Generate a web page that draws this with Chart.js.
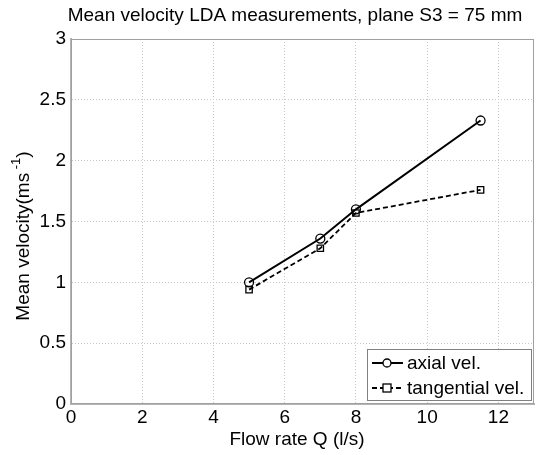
<!DOCTYPE html>
<html>
<head>
<meta charset="utf-8">
<script src="https://cdn.jsdelivr.net/npm/chart.js@4.4.0/dist/chart.umd.min.js"></script>
<style>
  html, body { margin: 0; padding: 0; background: #fff; }
  #wrap { width: 536px; height: 455px; }
</style>
</head>
<body>
<div id="wrap"><canvas id="chart" width="536" height="455"></canvas></div>
<script>
// data
const flowRate = [5, 7, 8, 11.5];
const axialVel = [1.0, 1.36, 1.6, 2.33];
const tangentialVel = [0.94, 1.28, 1.57, 1.76];

const xTicks = [0, 2, 4, 6, 8, 10, 12];
const yTicks = [0, 0.5, 1, 1.5, 2, 2.5, 3];

const titleText = 'Mean velocity LDA measurements, plane S3 = 75 mm';
const xTitle = 'Flow rate Q (l/s)';
const legendLabels = ['axial vel.', 'tangential vel.'];

const FONT = '"Liberation Sans", Arial, sans-serif';
const FS = 19;

const toPoints = (xs, ys) => xs.map((x, i) => ({ x: x, y: ys[i] }));

// titles, box and legend drawn by hand (MATLAB look)
const decorPlugin = {
    id: 'decor',
    afterDraw(chart) {
        const c = chart.ctx;
        const a = chart.chartArea;
        c.save();

        // box round the plot
        c.strokeStyle = '#a0a0a0';
        c.lineWidth = 1;
        c.strokeRect(a.left + 0.5, a.top + 0.5, a.right - a.left - 1, a.bottom - a.top - 1);

        c.fillStyle = '#000';
        c.font = FS + 'px ' + FONT;
        c.textBaseline = 'middle';
        c.textAlign = 'center';
        c.fillText(titleText, 295, 16);
        c.fillText(xTitle, 297, 440);

        // y title with superscript
        c.save();
        c.translate(24, 236);
        c.rotate(-Math.PI / 2);
        const main = 'Mean velocity(ms';
        const sup = ' -1';
        const end = ')';
        c.font = FS + 'px ' + FONT;
        const w1 = c.measureText(main).width;
        const w3 = c.measureText(end).width;
        c.font = '13px ' + FONT;
        const w2 = c.measureText(sup).width;
        let x0 = -(w1 + w2 + w3) / 2;
        c.textAlign = 'left';
        c.font = FS + 'px ' + FONT;
        c.fillText(main, x0, 0);
        c.font = '13px ' + FONT;
        c.fillText(sup, x0 + w1, -8);
        c.font = FS + 'px ' + FONT;
        c.fillText(end, x0 + w1 + w2, 0);
        c.restore();

        // legend
        const lx = 367, ly = 349, lw = 164, lh = 51;
        c.fillStyle = '#fff';
        c.fillRect(lx, ly, lw, lh);
        c.strokeStyle = '#808080';
        c.lineWidth = 1;
        c.strokeRect(lx + 0.5, ly + 0.5, lw, lh);

        const rows = [ly + 14, ly + 39];
        chart.data.datasets.forEach((ds, i) => {
            const y = rows[i];
            c.strokeStyle = '#000';
            c.lineWidth = ds.borderWidth;
            c.setLineDash(ds.borderDash || []);
            c.beginPath();
            c.moveTo(lx + 5, y);
            c.lineTo(lx + 36, y);
            c.stroke();
            c.setLineDash([]);
            c.lineWidth = 1.3;
            if (ds.pointStyle === 'rect') {
                c.fillStyle = '#fff';
                c.fillRect(lx + 16, y - 4, 8, 8);
                c.strokeRect(lx + 16, y - 4, 8, 8);
            } else {
                c.fillStyle = '#fff';
                c.beginPath();
                c.arc(lx + 20, y, 4, 0, Math.PI * 2);
                c.fill();
                c.stroke();
            }
            c.fillStyle = '#000';
            c.font = FS + 'px ' + FONT;
            c.textAlign = 'left';
            c.fillText(legendLabels[i], lx + 40, y + 1);
        });

        c.restore();
    }
};

const gridStyle = {
    color: '#c8c8c8',
    lineWidth: 1,
    drawTicks: false,
    tickLength: 0
};

new Chart(document.getElementById('chart'), {
    type: 'scatter',
    data: {
        datasets: [
            {
                label: legendLabels[0],
                data: toPoints(flowRate, axialVel),
                showLine: true,
                borderColor: '#000',
                borderWidth: 2,
                pointStyle: 'circle',
                pointRadius: 4.5,
                pointBorderWidth: 1.3,
                pointBackgroundColor: 'rgba(0,0,0,0)',
                pointBorderColor: '#000'
            },
            {
                label: legendLabels[1],
                data: toPoints(flowRate, tangentialVel),
                showLine: true,
                borderColor: '#000',
                borderWidth: 1.8,
                borderDash: [5, 3],
                pointStyle: 'rect',
                pointRadius: 4.5,
                pointBorderWidth: 1.3,
                pointBackgroundColor: 'rgba(0,0,0,0)',
                pointBorderColor: '#000'
            }
        ]
    },
    options: {
        responsive: false,
        animation: false,
        layout: { autoPadding: false, padding: { top: 39, right: 2, left: 0, bottom: 0 } },
        plugins: {
            legend: { display: false },
            title: { display: false },
            tooltip: { enabled: false }
        },
        scales: {
            x: {
                type: 'linear',
                min: 0,
                max: 13,
                afterBuildTicks: (s) => { s.ticks = xTicks.map(v => ({ value: v })); },
                afterFit: (s) => { s.height = 51; s.paddingLeft = 0; s.paddingRight = 0; },
                grid: gridStyle,
                border: { color: '#b4b4b4', width: 2, dash: [1, 2] },
                ticks: {
                    color: '#000',
                    font: { family: FONT, size: FS },
                    padding: 2,
                    maxRotation: 0,
                    callback: (v) => String(v)
                }
            },
            y: {
                type: 'linear',
                min: 0,
                max: 3,
                afterBuildTicks: (s) => { s.ticks = yTicks.map(v => ({ value: v })); },
                afterFit: (s) => { s.width = 71; s.paddingTop = 0; s.paddingBottom = 0; },
                grid: gridStyle,
                border: { color: '#b4b4b4', width: 2, dash: [1, 2] },
                ticks: {
                    color: '#000',
                    font: { family: FONT, size: FS },
                    padding: 5,
                    callback: (v) => String(v)
                }
            }
        }
    },
    plugins: [decorPlugin]
});
</script>
</body>
</html>
